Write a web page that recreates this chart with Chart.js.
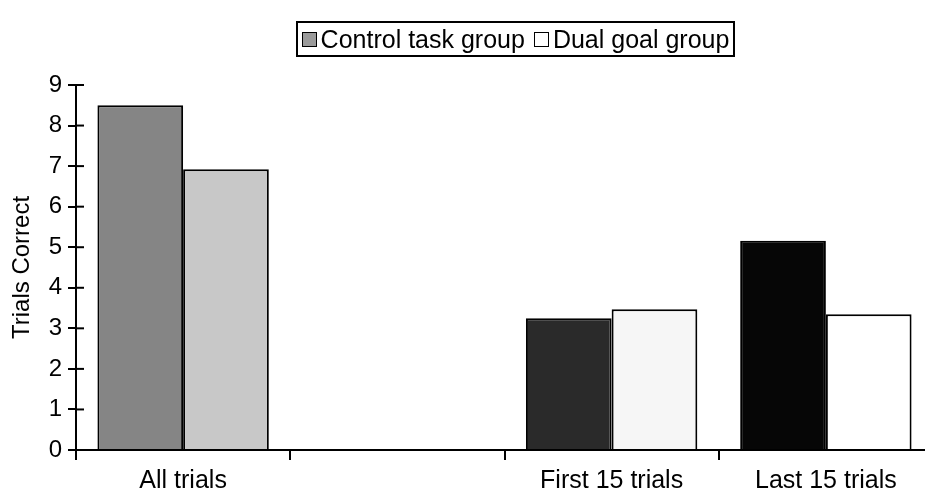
<!DOCTYPE html>
<html>
<head>
<meta charset="utf-8">
<script src="https://cdn.jsdelivr.net/npm/chart.js@4/dist/chart.umd.min.js"></script>
<style>
  html, body { margin: 0; padding: 0; overflow: hidden; background: #fff; }
  #wrap { position: relative; width: 935px; height: 493px; }
  #legend {
    position: absolute; left: 296px; top: 21px; width: 435px; height: 32px;
    border: 2px solid #000; display: flex; align-items: center; justify-content: center;
    font-family: "Liberation Sans", Arial, sans-serif; font-size: 25px; color: #000;
    gap: 9px;
  }
  #legend span.item { display: flex; align-items: center; gap: 4px; }
  #legend i { display: inline-block; width: 13px; height: 13px; border: 1px solid #000; }
</style>
</head>
<body>
<div id="wrap">
  <canvas id="chart" width="935" height="493"></canvas>
  <div id="legend"></div>
</div>
<script>
const categories = ["All trials", "", "First 15 trials", "Last 15 trials"];
const controlValues = [8.5, null, 3.25, 5.16];
const dualValues = [6.92, null, 3.47, 3.35];
const yTicks = [0, 1, 2, 3, 4, 5, 6, 7, 8, 9];

const controlColors = ["#858585", "#2a2a2a", "#060606"];
const dualColors = ["#c8c8c8", "#f6f6f6", "#ffffff"];
const FONT = "'Liberation Sans', Arial, sans-serif";

// y ticks in the original cross the axis, so draw the inner half too
const crossTicks = {
  id: "crossTicks",
  afterDraw(chart) {
    const y = chart.scales.y, ctx = chart.ctx;
    ctx.save();
    ctx.strokeStyle = "#000";
    ctx.lineWidth = 2;
    yTicks.forEach(v => {
      const py = y.getPixelForValue(v);
      ctx.beginPath();
      ctx.moveTo(chart.chartArea.left, py);
      ctx.lineTo(chart.chartArea.left + 8, py);
      ctx.stroke();
    });
    ctx.restore();
  }
};

const chart = new Chart(document.getElementById("chart"), {
  type: "bar",
  data: {
    labels: categories,
    datasets: [
      {
        label: "Control task group",
        data: controlValues,
        backgroundColor: [controlColors[0], "#fff", controlColors[1], controlColors[2]],
        swatch: "#9a9a9a",
        borderColor: "#000",
        borderWidth: 2,
      },
      {
        label: "Dual goal group",
        data: dualValues,
        backgroundColor: [dualColors[0], "#fff", dualColors[1], dualColors[2]],
        swatch: "#ffffff",
        borderColor: "#000",
        borderWidth: 2,
      },
    ],
  },
  options: {
    responsive: false,
    animation: false,
    devicePixelRatio: 1,
    layout: { padding: { top: 85, right: 2, left: 0, bottom: 0 } },
    categoryPercentage: 0.8,
    barPercentage: 1,
    plugins: { legend: { display: false }, tooltip: { enabled: false } },
    scales: {
      x: {
        grid: { display: true, drawOnChartArea: false, offset: true, color: "#000", lineWidth: 2, tickLength: 10 },
        border: { color: "#000", width: 2 },
        ticks: { color: "#000", font: { family: FONT, size: 25 }, padding: 6, maxRotation: 0, autoSkip: false },
        afterFit: s => { s.height = 43; },
      },
      y: {
        min: 0,
        max: 9,
        afterBuildTicks: s => { s.ticks = yTicks.map(v => ({ value: v })); },
        grid: { display: true, drawOnChartArea: false, color: "#000", lineWidth: 2, tickLength: 8 },
        border: { color: "#000", width: 2 },
        ticks: { color: "#000", font: { family: FONT, size: 24 }, padding: 6 },
        title: { display: true, text: "Trials Correct", color: "#000", font: { family: FONT, size: 24 }, padding: { top: 8, bottom: 0 } },
        afterFit: s => { s.width = 76; },
      },
    },
  },
  plugins: [crossTicks],
});

// legend built from the chart's datasets
const legend = document.getElementById("legend");
chart.data.datasets.forEach(ds => {
  const item = document.createElement("span");
  item.className = "item";
  const box = document.createElement("i");
  box.style.background = ds.swatch;
  item.appendChild(box);
  item.appendChild(document.createTextNode(ds.label));
  legend.appendChild(item);
});
</script>
</body>
</html>
